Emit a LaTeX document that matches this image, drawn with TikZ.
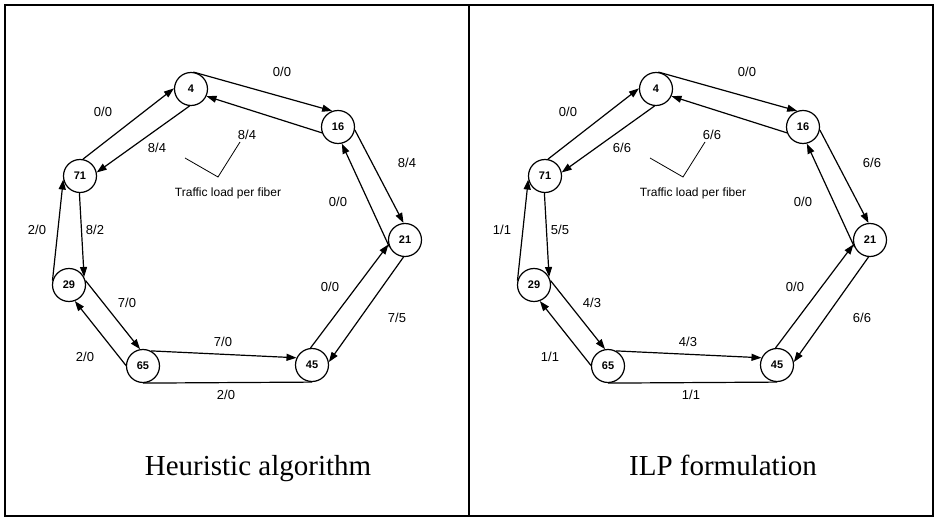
\documentclass[tikz,border=0pt]{standalone}
\usepackage{fontspec}
\setmainfont{Liberation Serif}
\newfontfamily\loadfont{Liberation Sans}
\usetikzlibrary{arrows.meta}

\tikzset{
  site/.style={draw, circle, line width=1.2pt, minimum size=33pt, inner sep=0pt, fill=white,
    font=\loadfont\bfseries\fontsize{11}{11}\selectfont},
  fiber/.style={line width=1.2pt, -{Triangle[length=10pt,width=7pt]}},
  load/.style={inner sep=1pt, font=\loadfont\fontsize{13}{13}\selectfont},
  caption/.style={anchor=base, font=\fontsize{29}{29}\selectfont},
}

\begin{document}
\begin{tikzpicture}[x=1pt,y=-1pt]
\fill[white] (0,0) rectangle (935,518);
\useasboundingbox (0,0) rectangle (935,518);
% frames
\draw[line width=1.5pt] (5,5) rectangle (933,516);
\draw[line width=1.5pt] (469,5) -- (469,516);

% the two rings, same layout
\foreach \p/\dx/\cap in {h/0/Heuristic algorithm, i/465/ILP formulation}{
  \begin{scope}[xshift=\dx]
    \foreach \n/\x/\y in {4/191/89, 16/338/127, 21/405/240, 45/312/365, 65/143/366, 29/69/285, 71/80/176}
      \node[site] (\p\n) at (\x,\y) {\n};
    \foreach \a/\aa/\b/\bb in {71/80/4/178, 4/265/71/12, 4/82/16/110, 16/200/4/335,
        16/350/21/95, 21/205/16/283, 45/95/21/195, 21/265/45/10, 65/62/45/155,
        29/15/65/100, 65/178/29/290, 29/165/71/192, 71/268/29/28}
      \draw[fiber] (\p\a.\aa) -- (\p\b.\bb);
    \draw[line width=1.2pt] (\p65.south) -- (\p45.south);
    % pointer to the loads
    \node[inner sep=1pt, font=\loadfont\fontsize{12}{12}\selectfont] (\p note) at (228,193) {Traffic load per fiber};
    \coordinate (\p armA) at (185,158);
    \coordinate (\p tip) at (218,177);
    \coordinate (\p armB) at (240,142);
    \draw[line width=0.8pt] (\p armA) -- (\p tip) -- (\p armB);
    \node[caption] (\p cap) at (258,476) {\cap};
  \end{scope}
}

% loads: heuristic / ILP
\foreach \x/\y/\ha/\hb/\ia/\ib [count=\k] in {103/112/0/0/0/0, 157/148/8/4/6/6, 282/72/0/0/0/0,
    247/135/8/4/6/6, 407/163/8/4/6/6, 338/202/0/0/0/0, 330/287/0/0/0/0, 397/318/7/5/6/6,
    223/342/7/0/4/3, 226/395/2/0/1/1, 127/303/7/0/4/3, 85/357/2/0/1/1, 37/230/2/0/1/1, 95/230/8/2/5/5}{
  \node[load] (hl\k) at (\x,\y) {\ha/\hb};
  \node[load] (il\k) at (\x+465,\y) {\ia/\ib};
}
\end{tikzpicture}
\end{document}
